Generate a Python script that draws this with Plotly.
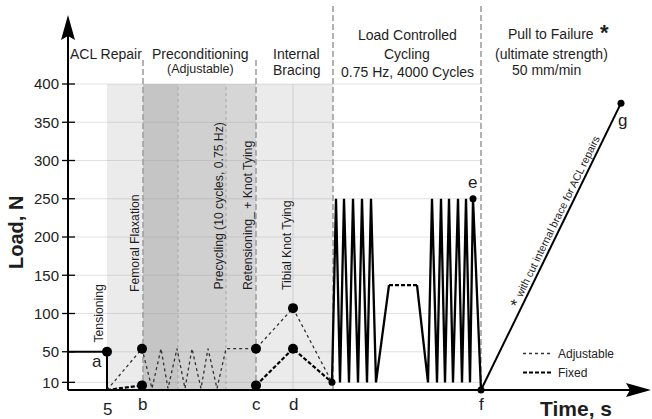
import plotly.graph_objects as go

# ---------------- data (schematic time units, load in N) ----------------
TICK_LOADS = [10, 50, 100, 150, 200, 250, 300, 350, 400]

TENSION_T = [0, 39, 39]
TENSION_L = [50, 50, 0]

ADJ_T = [39, 74, 84, 93, 100, 109, 117, 124, 133, 140, 149, 158, 188, 225, 264]
ADJ_L = [0, 54, 2, 54, 2, 54, 2, 54, 2, 54, 2, 54, 54, 107, 10]

FIX_T = [39, 74, None, 188, 225, 264]
FIX_L = [0, 6, None, 6, 54, 10]

CYC1_T = [264, 268, 272, 276, 281, 285, 290, 294, 299, 303, 308, 321]
CYC1_L = [10, 250, 10, 250, 10, 250, 10, 250, 10, 250, 10, 137]
HOLD_T = [321, 349]
HOLD_L = [137, 137]
CYC2_T = [349, 360, 364, 369, 373, 377, 381, 385, 390, 394, 398, 402, 405, 413]
CYC2_L = [137, 10, 250, 10, 250, 10, 250, 10, 250, 10, 250, 10, 250, 0]
PULL_T = [413, 553]
PULL_L = [0, 375]

BIG_PT_T = [39, 74, 74, 188, 188, 225, 225]
BIG_PT_L = [50, 54, 6, 54, 6, 107, 54]
SMALL_PT_T = [264, 405, 413, 553]
SMALL_PT_L = [10, 250, 0, 375]

PHASE_START = [39, 75, 110, 158, 188]
PHASE_END = [75, 110, 158, 188, 265]
PHASE_TOP = 400
STAGE_BOUNDS = [75, 188, 265, 413]
SUB_BOUNDS_DOT = [110, 158]
SUB_BOUND_SOLID = [225]
GRID_END = 413

# ---------------- layout geometry helpers ----------------
ML, MB, W, H = 60, 21, 652, 419
PW, PH = W - ML, H - MB

def tx(px):
    return px - 68

def ly(py):
    return (390 - py) / 0.765

def paper_x(px):
    return (px - ML) / PW

def paper_y(py):
    return 1 - py / PH

FONT = "Liberation Sans, Arial, sans-serif"
TXT = "#1e1e1e"

fig = go.Figure()

fig.add_trace(go.Scatter(x=TENSION_T, y=TENSION_L, mode="lines",
                         line=dict(color="black", width=2), showlegend=False))
fig.add_trace(go.Scatter(x=ADJ_T, y=ADJ_L, mode="lines", name="Adjustable",
                         line=dict(color="#333333", width=1.3, dash="dot")))
fig.add_trace(go.Scatter(x=FIX_T, y=FIX_L, mode="lines", name="Fixed",
                         line=dict(color="black", width=2.2, dash="4px,2px")))
fig.add_trace(go.Scatter(x=CYC1_T, y=CYC1_L, mode="lines",
                         line=dict(color="black", width=2.3), showlegend=False))
fig.add_trace(go.Scatter(x=HOLD_T, y=HOLD_L, mode="lines",
                         line=dict(color="black", width=2.2, dash="4px,2px"), showlegend=False))
fig.add_trace(go.Scatter(x=CYC2_T, y=CYC2_L, mode="lines",
                         line=dict(color="black", width=2.3), showlegend=False))
fig.add_trace(go.Scatter(x=PULL_T, y=PULL_L, mode="lines",
                         line=dict(color="black", width=2), showlegend=False))
fig.add_trace(go.Scatter(x=BIG_PT_T, y=BIG_PT_L, mode="markers",
                         marker=dict(color="black", size=10), showlegend=False))
fig.add_trace(go.Scatter(x=SMALL_PT_T, y=SMALL_PT_L, mode="markers",
                         marker=dict(color="black", size=7), showlegend=False))

shapes = []
phase_colors = ["#ebebeb", "#c5c5c5", "#d0d0d0", "#d6d6d6", "#ebebeb"]
for x0, x1, c in zip(PHASE_START, PHASE_END, phase_colors):
    shapes.append(dict(type="rect", xref="x", yref="y", x0=x0, x1=x1, y0=0, y1=PHASE_TOP,
                       fillcolor=c, line=dict(width=0), layer="below"))
for v in TICK_LOADS:
    shapes.append(dict(type="line", xref="x", yref="y", x0=0, x1=GRID_END, y0=v, y1=v,
                       line=dict(color="rgba(150,150,150,0.28)", width=1), layer="below"))
for xv in SUB_BOUNDS_DOT:
    shapes.append(dict(type="line", xref="x", yref="y", x0=xv, x1=xv, y0=0, y1=PHASE_TOP,
                       line=dict(color="#a5a5a5", width=1, dash="dot"), layer="below"))
for xv in SUB_BOUND_SOLID:
    shapes.append(dict(type="line", xref="x", yref="y", x0=xv, x1=xv, y0=0, y1=PHASE_TOP,
                       line=dict(color="#cdcdcd", width=1), layer="below"))
for i, xv in enumerate(STAGE_BOUNDS):
    top = ly(58) if i < 2 else ly(4)
    shapes.append(dict(type="line", xref="x", yref="y", x0=xv, x1=xv, y0=0, y1=top,
                       line=dict(color="#a0a0a0", width=1.6, dash="6px,3px"), layer="below"))
# tick marks
for v in TICK_LOADS:
    shapes.append(dict(type="line", xref="x", yref="y", xsizemode="pixel", xanchor=0,
                       x0=-6, x1=7, y0=v, y1=v, line=dict(color="black", width=1.3)))
# axis lines + arrow heads
shapes.append(dict(type="line", xref="x", yref="y", x0=0, x1=0, y0=0, y1=ly(34),
                   line=dict(color="black", width=2)))
shapes.append(dict(type="line", xref="x", yref="y", x0=0, x1=tx(632), y0=0, y1=0,
                   line=dict(color="black", width=2)))
shapes.append(dict(type="path", xref="x", yref="y", xsizemode="pixel", ysizemode="pixel",
                   xanchor=0, yanchor=ly(15), path="M0,0 L-7,-25 L0,-21 L7,-25 Z",
                   fillcolor="black", line=dict(width=0)))
shapes.append(dict(type="path", xref="x", yref="y", xsizemode="pixel", ysizemode="pixel",
                   xanchor=tx(651), yanchor=0, path="M0,0 L-25,7 L-21,0 L-25,-7 Z",
                   fillcolor="black", line=dict(width=0)))

ann = []
def add_text(text, px, py, size=14, angle=0, bold=False, color=TXT):
    ann.append(dict(text=f"<b>{text}</b>" if bold else text,
                    x=paper_x(px), y=paper_y(py), xref="paper", yref="paper",
                    showarrow=False, textangle=angle,
                    xanchor="center", yanchor="middle",
                    font=dict(family=FONT, size=size, color=color)))

# stage headings
add_text("ACL Repair", 106, 53.5)
add_text("Preconditioning", 200, 53.5)
add_text("(Adjustable)", 200, 68.5, size=12.5)
add_text("Internal", 296, 53.5)
add_text("Bracing", 296, 70.2)
add_text("Load Controlled", 407, 35.2)
add_text("Cycling", 407, 53.5)
add_text("0.75 Hz, 4000 Cycles", 407, 72)
add_text("Pull to Failure", 550.5, 33.8)
add_text("*", 604, 33, size=22, bold=True)
add_text("(ultimate strength)", 551, 53.8)
add_text("50 mm/min", 546, 70)

# step labels (vertical)
add_text("Tensioning", 98, 313.5, size=12.2, angle=-90)
add_text("Femoral Flaxation", 135, 243, size=12.2, angle=-90)
add_text("Precycling (10 cycles, 0.75 Hz)", 218, 206.5, size=12.2, angle=-90)
add_text("Retensioning_ + Knot Tying", 248, 216, size=12.2, angle=-90)
add_text("Tibial Knot Tying", 287, 246, size=12.2, angle=-90)

# point letters
add_text("a", 96.7, 361.1, size=17)
add_text("5", 107, 409.1, size=17)
add_text("b", 142, 404.1, size=17)
add_text("c", 256, 404.1, size=17)
add_text("d", 293, 404.1, size=17)
add_text("f", 481, 404.1, size=17)
add_text("e", 472, 182.1, size=17)
add_text("g", 622, 121, size=17)

# note along the pull line
add_text("with cut internal brace for ACL repairs", 557, 217, size=10.7, angle=-63.9)
add_text("*", 516, 304, size=17, angle=-63.9)

# axis titles
add_text("Load, N", 16, 233, size=20, angle=-90, bold=True)
add_text("Time, s", 576, 408.7, size=21, bold=True)

fig.update_layout(
    width=W, height=H, autosize=False,
    margin=dict(l=ML, r=0, t=0, b=MB),
    paper_bgcolor="white", plot_bgcolor="white",
    shapes=shapes, annotations=ann,
    xaxis=dict(range=[-8, 584], showgrid=False, zeroline=False, showline=False,
               showticklabels=False, ticks=""),
    yaxis=dict(range=[ly(PH), ly(0)], showgrid=False, zeroline=False, showline=False,
               tickmode="array", tickvals=TICK_LOADS, ticks="",
               tickfont=dict(family=FONT, size=15, color="#222222"),
               ticklabelstandoff=0),
    legend=dict(x=paper_x(518), y=paper_y(339), xanchor="left", yanchor="top",
                bgcolor="rgba(0,0,0,0)", font=dict(family=FONT, size=12, color="#222222"),
                itemwidth=30, tracegroupgap=0),
    showlegend=True,
)

fig.write_html("out.html", config={"displayModeBar": False})
